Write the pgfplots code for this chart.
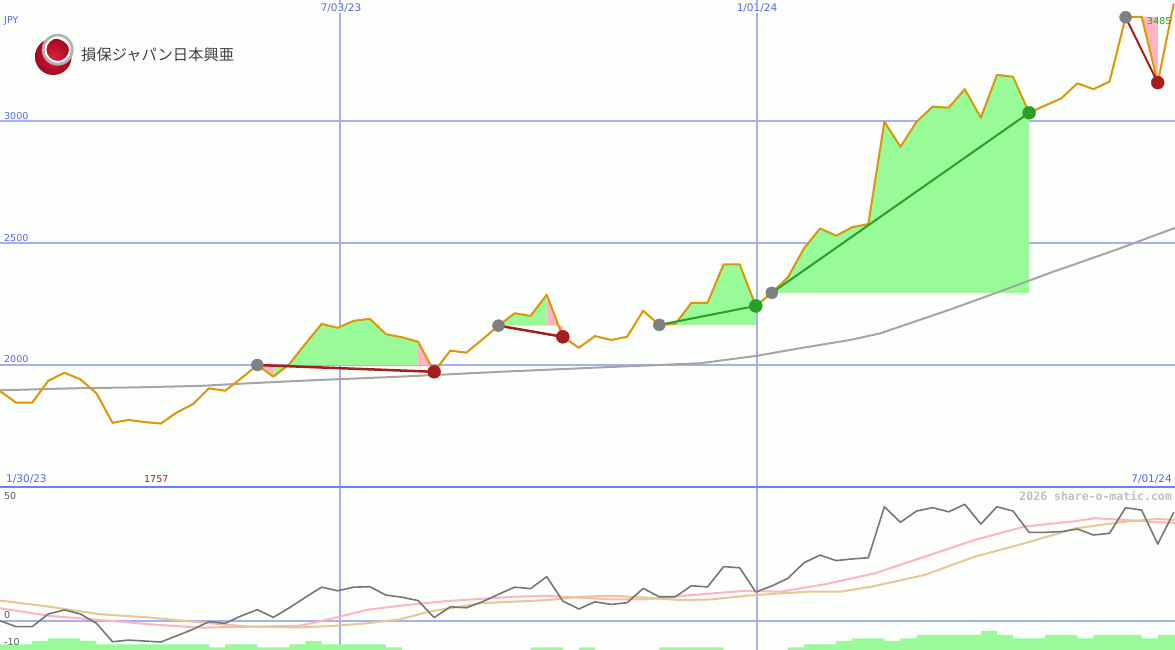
\documentclass[border=0pt]{standalone}
\usepackage{pgfplots}
\usepackage{pgfplotstable}
\pgfplotsset{compat=1.18}
\usepackage{fontspec}
\setmainfont{DejaVu Sans}
\newfontfamily\cjk{Noto Sans CJK JP}
\newfontfamily\mono{DejaVu Sans Mono}

\definecolor{gridblue}{RGB}{164,176,240}
\definecolor{sepblue}{RGB}{112,128,240}
\definecolor{lblblue}{RGB}{88,100,240}
\definecolor{priceor}{RGB}{221,150,8}
\definecolor{maggray}{RGB}{165,165,165}
\definecolor{fillgreen}{RGB}{152,251,152}
\definecolor{fillpink}{RGB}{255,182,193}
\definecolor{tradered}{RGB}{165,30,30}
\definecolor{tradegreen}{RGB}{40,160,40}
\definecolor{dotgray}{RGB}{128,128,128}
\definecolor{momgray}{RGB}{118,118,118}
\definecolor{malpink}{RGB}{255,180,195}
\definecolor{maltan}{RGB}{228,200,150}
\definecolor{bg}{RGB}{252,254,252}
\definecolor{lblgray}{RGB}{90,90,90}
\definecolor{logoredin}{RGB}{225,30,60}
\definecolor{logoredout}{RGB}{160,8,30}

% weekly closes, x = week index from 1/30/23
\pgfplotstableread{
i p
0 1891
1 1843
2 1843
3 1933
4 1966
5 1939
6 1881
7 1760
8 1772
9 1763
10 1757
11 1803
12 1837
13 1902
14 1892
15 1943
16 1998
17 1950
18 2002
19 2086
20 2167
21 2151
22 2180
23 2188
24 2125
25 2112
26 2094
27 1970
28 2057
29 2049
30 2103
31 2160
32 2211
33 2200
34 2287
35 2114
36 2069
37 2117
38 2101
39 2114
40 2221
41 2163
42 2167
43 2254
44 2254
45 2412
46 2412
47 2241
48 2295
49 2359
50 2478
51 2560
52 2530
53 2565
54 2578
55 2999
56 2896
57 2999
58 3061
59 3057
60 3133
61 3015
62 3192
63 3184
64 3036
65 3066
66 3095
67 3157
68 3133
69 3164
70 3429
71 3431
72 3160
73 3485
}\price

\pgfplotstableread{
i m
0 1894
4.54 1902
8.52 1906
12.44 1912
15.55 1923
18.66 1933
24.88 1950
31.09 1970
37.31 1988
43.53 2005
47.08 2036
49.75 2067
52.86 2101
54.73 2128
59.08 2226
62.2 2301
65.3 2377
69.4 2472
73.07 2562
}\malong

\pgfplotstableread{
i v
0 0
1 -2.5
2 -2.5
3 2.8
4 4.5
5 2.8
6 -1.1
7 -8.8
8 -8.1
9 -8.5
10 -8.9
11 -6.3
12 -3.6
13 -0.4
14 -1.1
15 2.0
16 4.6
17 1.4
18 5.4
19 9.8
20 14.0
21 12.5
22 14.0
23 14.2
24 10.7
25 9.8
26 8.4
27 1.3
28 5.8
29 5.4
30 7.9
31 11.0
32 14.0
33 13.4
34 18.4
35 8.2
36 4.9
37 7.9
38 6.8
39 7.5
40 13.5
41 10.0
42 10.0
43 14.6
44 14.1
45 22.6
46 22.1
47 12.0
48 14.5
49 17.7
50 24.2
51 27.4
52 25.1
53 25.8
54 26.3
55 47.6
56 41.1
57 45.8
58 47.2
59 45.5
60 48.6
61 40.4
62 47.6
63 45.8
64 36.9
65 36.9
66 37.2
67 38.3
68 35.8
69 36.5
70 47.2
71 46.2
72 32.0
73 45.3
}\mom

\pgfplotstableread{
i v
0 5.2
3.11 2.0
6.22 0.3
9.33 -1.5
12.44 -2.9
15.55 -2.5
18.66 -2.1
20.7 1.0
22.8 4.5
24.9 6.3
27.8 8.2
31.9 10.0
34.0 10.4
36.1 9.6
38.1 8.9
40.2 8.9
42.3 10.3
44.3 11.4
46.4 12.5
48.5 12.1
51.3 15.2
54.4 19.8
57.5 26.7
60.6 33.7
63.7 39.3
66.9 41.6
68.1 42.8
70.0 42.1
72.0 41.1
73.07 40.9
}\mompink

\pgfplotstableread{
i v
0 8.4
3.11 5.8
6.22 2.7
9.33 1.3
12.44 -0.7
15.55 -2.5
18.66 -2.8
20.7 -2.2
22.8 -1.1
24.9 0.6
26.7 3.8
29.9 7.3
34.0 8.6
36.1 10.0
38.1 10.4
40.2 9.6
42.3 8.6
44.3 8.9
46.4 10.4
48.5 11.4
50.2 12.1
52.3 12.1
54.4 14.5
57.5 19.1
60.6 26.7
63.7 32.3
66.9 38.6
70.0 41.4
72.0 42.5
73.07 42.1
}\momtan

\pgfplotstableread{
i v
0 -13
0 -9.86
1 -9.86
2 -8.48
3 -7.35
4 -7.35
5 -8.48
6 -9.86
7 -9.86
8 -9.86
9 -9.86
10 -9.86
11 -9.86
12 -9.86
13 -11.11
14 -9.86
15 -9.86
16 -11.11
17 -11.11
18 -9.86
19 -8.48
20 -9.86
21 -9.86
22 -9.86
23 -9.86
24 -11.11
25 -13
26 -13
27 -13
28 -13
29 -13
30 -13
31 -13
32 -13
33 -11.11
34 -11.11
35 -13
36 -11.11
37 -13
38 -13
39 -13
40 -13
41 -11.11
42 -11.11
43 -11.11
44 -11.11
45 -13
46 -13
47 -13
48 -13
49 -11.11
50 -9.86
51 -9.86
52 -8.48
53 -7.35
54 -7.35
55 -8.48
56 -7.35
57 -5.97
58 -5.97
59 -5.97
60 -5.97
61 -4.30
62 -5.97
63 -7.35
64 -7.35
65 -5.97
66 -5.97
67 -7.35
68 -5.97
69 -5.97
70 -5.97
71 -7.35
72 -5.97
73 -5.97
73.07 -5.97
73.07 -13
}\vol

\pgfplotsset{chartbase/.style={
  scale only axis, width=1175pt, xmin=0, xmax=73.07,
  axis line style={draw=none}, tick style={draw=none},
  xticklabels={}, yticklabels={},
  grid=major, major grid style={gridblue, line width=2pt},
  xtick={21.14,47.08}, anchor=south west}}

\begin{document}
\begin{tikzpicture}[x=1pt,y=1pt]
\fill[bg] (0,0) rectangle (1175,650);

% ---------- upper panel ----------
\begin{axis}[chartbase, at={(0pt,163pt)}, height=487pt,
  ymin=1496, ymax=3500, ytick={2000,2500,3000}]
% trade fills
\addplot[fill=fillpink, draw=none] coordinates {(16,1998) (17,1950) (17,1998)} --cycle;
\addplot[fill=fillgreen, draw=none] coordinates {(17,1998) (17,1950) (18,2002) (19,2086) (20,2167) (21,2151) (22,2180) (23,2188) (24,2125) (25,2112) (26,2094) (26,1998)} --cycle;
\addplot[fill=fillpink, draw=none] coordinates {(26,1998) (26,2094) (27,1970) (27,1998)} --cycle;
\addplot[fill=fillgreen, draw=none] coordinates {(31,2160) (32,2211) (33,2200) (34,2287) (34,2160)} --cycle;
\addplot[fill=fillpink, draw=none] coordinates {(34,2160) (34,2287) (35,2114) (35,2160)} --cycle;
\addplot[fill=fillgreen, draw=none] coordinates {(41,2163) (42,2167) (43,2254) (44,2254) (45,2412) (46,2412) (47,2241) (47,2163)} --cycle;
\addplot[fill=fillgreen, draw=none] coordinates {(48,2295) (49,2359) (50,2478) (51,2560) (52,2530) (53,2565) (54,2578) (55,2999) (56,2896) (57,2999) (58,3061) (59,3057) (60,3133) (61,3015) (62,3192) (63,3184) (64,3036) (64,2295)} --cycle;
\addplot[fill=fillgreen, draw=none] coordinates {(70,3427) (71,3433) (71,3427)} --cycle;
\addplot[fill=fillpink, draw=none] coordinates {(71,3429) (71,3431) (72,3160) (72,3429)} --cycle;
% long moving average
\addplot[maggray, line width=2pt] table[x=i,y=m] {\malong};
% price
\addplot[priceor, line width=2pt, line join=round] table[x=i,y=p] {\price};
% trade lines
\addplot[tradered, line width=2.5pt] coordinates {(16,1998) (27,1970)};
\addplot[tradered, line width=2.5pt] coordinates {(31,2160) (35,2114)};
\addplot[tradegreen, line width=2pt] coordinates {(41,2163) (47,2241)};
\addplot[tradegreen, line width=2pt] coordinates {(48,2295) (64,3036)};
\addplot[tradered, line width=2pt] coordinates {(70,3429) (72,3160)};
% entry / exit dots
\addplot[only marks, mark=*, mark size=6pt, dotgray] coordinates {(16,1998) (31,2160) (41,2163) (48,2295) (70,3429)};
\addplot[only marks, mark=*, mark size=6.5pt, tradered] coordinates {(27,1970) (35,2114) (72,3160)};
\addplot[only marks, mark=*, mark size=6.5pt, tradegreen] coordinates {(47,2241) (64,3036)};
\end{axis}

% ---------- lower panel ----------
\begin{axis}[chartbase, at={(0pt,0pt)}, height=163pt,
  ymin=-12.24, ymax=55.85, ytick={0}]
\addplot[fill=fillgreen, draw=none, const plot] table[x=i,y=v] {\vol} --cycle;
\addplot[malpink, line width=2pt] table[x=i,y=v] {\mompink};
\addplot[maltan, line width=2pt] table[x=i,y=v] {\momtan};
\addplot[momgray, line width=1.6pt, line join=round] table[x=i,y=v] {\mom};
\end{axis}

\draw[sepblue, line width=2pt] (0,163) -- (1175,163);

% ---------- labels ----------
\begin{scope}[every node/.style={inner sep=0pt, font=\fontsize{9.5}{11}\selectfont}]
\node[anchor=west, lblblue] at (4,629) {JPY};
\node[anchor=west, lblblue] at (4,534) {3000};
\node[anchor=west, lblblue] at (4,412) {2500};
\node[anchor=west, lblblue] at (4,291) {2000};
\node[lblblue, fill=bg, inner xsep=1pt, inner ysep=1pt, font=\fontsize{10.5}{12}\selectfont] at (341,642) {7/03/23};
\node[lblblue, fill=bg, inner xsep=1pt, inner ysep=1pt, font=\fontsize{10.5}{12}\selectfont] at (757,642) {1/01/24};
\node[anchor=west, lblblue, font=\fontsize{10.5}{12}\selectfont] at (6,171) {1/30/23};
\node[anchor=west, tradered] at (144,171) {1757};
\node[anchor=east, lblblue, font=\fontsize{10.5}{12}\selectfont] at (1172,171) {7/01/24};
\node[anchor=west, lblgray] at (4,154) {50};
\node[anchor=west, lblgray] at (4,35) {0};
\node[anchor=west, lblgray] at (4,8) {-10};
\node[anchor=west, tradegreen] at (1147,629) {3485};
\node[anchor=east, black!25, font=\mono\bfseries\fontsize{11.5}{12}\selectfont] at (1172,154) {2026 share-o-matic.com};
\end{scope}

% ---------- logo ----------
\shade[inner color=logoredin, outer color=logoredout] (53.3,593.3) circle (18.3);
\draw[white, line width=2.2pt] (57.7,600.3) circle (12.4);
\draw[black!30, line width=2.6pt] (57.7,600.3) circle (14.6);
\node[anchor=west, inner sep=0pt, text=black!75, font=\cjk\fontsize{15.3}{16}\selectfont] at (81,595) {損保ジャパン日本興亜};

\pgfresetboundingbox
\path[use as bounding box] (0,0) rectangle (1175,650);
\end{tikzpicture}
\end{document}
